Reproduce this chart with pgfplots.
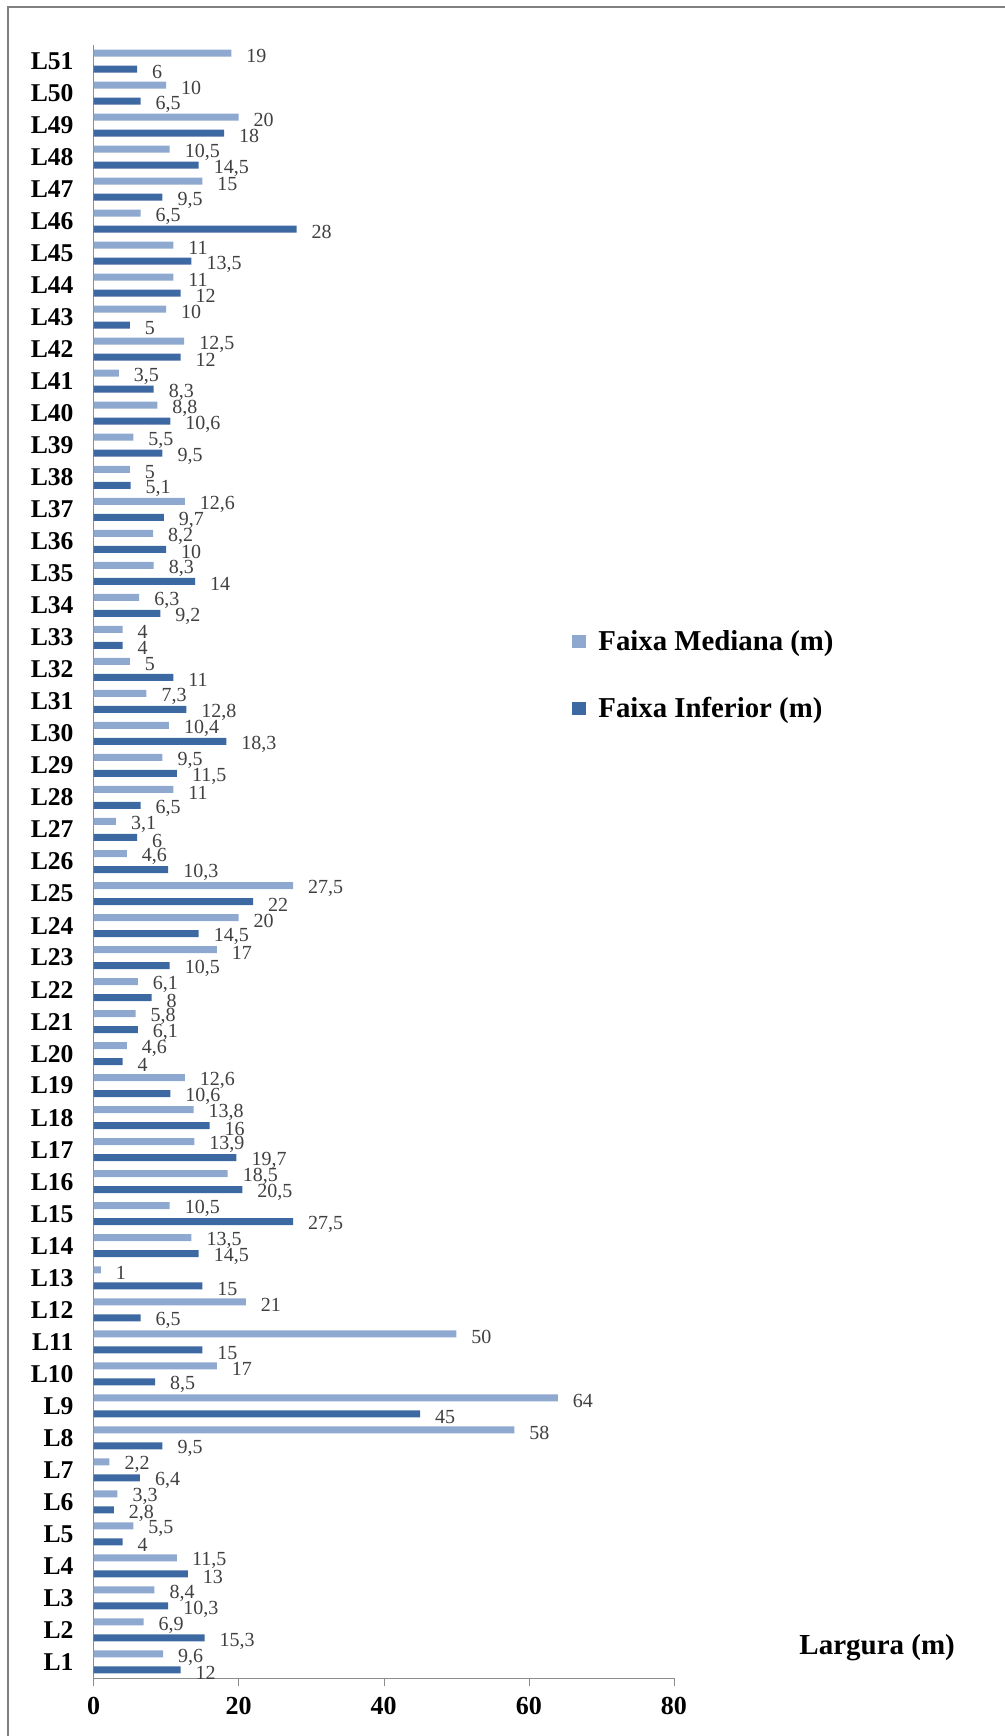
\documentclass[border=0pt]{standalone}
\usepackage{pgfplots}
\pgfplotsset{compat=1.18}
\usepackage{pgfplotstable}
\usepackage{fontspec}
\setmainfont{Liberation Serif}
\definecolor{med}{HTML}{8FA8D0}
\definecolor{inf}{HTML}{3D69A3}
\definecolor{vlab}{HTML}{404040}
\pgfplotstableread{
y med inf
1 9.6 12
2 6.9 15.3
3 8.4 10.3
4 11.5 13
5 5.5 4
6 3.3 2.8
7 2.2 6.4
8 58 9.5
9 64 45
10 17 8.5
11 50 15
12 21 6.5
13 1 15
14 13.5 14.5
15 10.5 27.5
16 18.5 20.5
17 13.9 19.7
18 13.8 16
19 12.6 10.6
20 4.6 4
21 5.8 6.1
22 6.1 8
23 17 10.5
24 20 14.5
25 27.5 22
26 4.6 10.3
27 3.1 6
28 11 6.5
29 9.5 11.5
30 10.4 18.3
31 7.3 12.8
32 5 11
33 4 4
34 6.3 9.2
35 8.3 14
36 8.2 10
37 12.6 9.7
38 5 5.1
39 5.5 9.5
40 8.8 10.6
41 3.5 8.3
42 12.5 12
43 10 5
44 11 12
45 11 13.5
46 6.5 28
47 15 9.5
48 10.5 14.5
49 20 18
50 10 6.5
51 19 6
}\datatable
\begin{document}
\begin{tikzpicture}
\useasboundingbox (0,0) rectangle (502.5pt,868pt);
\begin{axis}[
  at={(46.75pt,29pt)}, anchor=south west,
  width=290.25pt, height=816.5pt, scale only axis,
  xbar, bar width=3.5pt,
  xmin=0, xmax=80, ymin=0.5, ymax=51.5,
  axis x line*=bottom, axis y line*=left,
  axis line style={black!45,-},
  /pgf/number format/assume math mode=true,
  xtick={0,20,40,60,80},
  ytick={1,...,51},
  minor ytick={0.5,1.5,...,51.5},
  tick align=outside,
  major tick length=4pt, minor tick length=4pt,
  ytick style={draw=none},
  minor tick style={black!45},
  xtick style={black!45},
  yticklabel={\textbf{L\pgfmathparse{int(\tick)}\pgfmathresult}},
  yticklabel style={font=\fontsize{12.8}{14}\selectfont, anchor=east, xshift=-2.5pt},
  xticklabel style={font=\bfseries\fontsize{13}{15}\selectfont, yshift=-2pt},
  nodes near coords={\pgfmathprintnumber[use comma,fixed,precision=1]{\pgfplotspointmeta}},
  every node near coord/.append style={font=\fontsize{10}{11}\selectfont, text=vlab, anchor=west, xshift=4pt, yshift=-1.5pt},
  xlabel={Largura (m)},
  xlabel style={at={(axis description cs:1.35,0.0145)}, anchor=base, font=\bfseries\fontsize{14.5}{16}\selectfont},
  legend style={at={(0.814,0.614)}, anchor=west, draw=none, fill=none, row sep=18pt, column sep=4pt,
    font=\bfseries\fontsize{14.4}{16}\selectfont},
  legend cell align=left,
  legend image code/.code={\draw[#1,draw=none] (0pt,-3.3pt) rectangle (7pt,3.3pt);},
]
\addplot[fill=med, draw=none, bar shift=4pt] table[x=med, y=y] {\datatable};
\addlegendentry{Faixa Mediana (m)}
\addplot[fill=inf, draw=none, bar shift=-4pt] table[x=inf, y=y] {\datatable};
\addlegendentry{Faixa Inferior (m)}
\end{axis}
\draw[black!50, line width=1pt] (4pt,0pt) -- (4pt,864.5pt) -- (502.5pt,864.5pt);
\end{tikzpicture}
\end{document}
